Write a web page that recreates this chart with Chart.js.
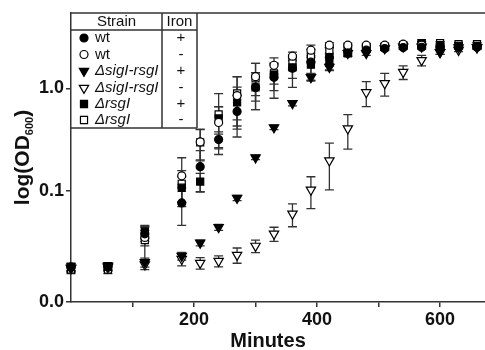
<!DOCTYPE html>
<html><head><meta charset="utf-8">
<script src="https://cdn.jsdelivr.net/npm/chart.js@4/dist/chart.umd.min.js"></script>
<style>html,body{margin:0;padding:0;background:#fff}</style>
</head><body>
<canvas id="c" width="485" height="350" style="width:485px;height:350px;display:block"></canvas>
<script>
// ---- data ----
const minutes = [0,60,120,180,210,240,270,300,330,360,390,420,450,480,510,540,570,600,630,660];

const wtIron      = [0.018,0.018,0.038,0.076,0.172,0.316,0.595,1.02,1.28,1.57,1.80,2.01,2.20,2.36,2.45,2.50,2.52,2.50,2.55,2.55];
const wtIronErr   = [0.0015,0.0015,0.006,0.03,0.075,0.06,0.26,0.40,0.48,0.55,0.60,0.50,0.15,0.12,0.10,0.10,0.10,0.10,0.10,0.10];

const wtNoIron    = [0.018,0.018,0.035,0.140,0.300,0.464,0.850,1.30,1.68,2.06,2.36,2.64,2.64,2.64,2.64,2.70,2.64,2.52,2.52,2.52];
const wtNoIronErr = [0.0015,0.0015,0.006,0.07,0.10,0.20,0.45,0.45,0.30,0.20,0.28,0.15,0.12,0.10,0.10,0.10,0.10,0.10,0.10,0.10];

const sigIron     = [0.0176,0.018,0.020,0.023,0.031,0.044,0.085,0.211,0.415,0.713,1.28,1.61,2.20,2.20,2.45,2.55,2.55,2.25,2.50,2.50];
const sigIronErr  = [0.0015,0.0015,0.002,0.002,0.002,0.003,0.005,0.010,0.02,0.04,0.10,0.12,0.10,0.10,0.10,0.10,0.10,0.10,0.10,0.10];

const sigNoIron   = [0.0176,0.0184,0.019,0.0215,0.0197,0.0206,0.0236,0.0289,0.038,0.0595,0.102,0.197,0.405,0.913,1.12,1.44,1.88,2.25,2.36,2.52];
const sigNoIronErr= [0.0015,0.0015,0.002,0.003,0.0025,0.0025,0.004,0.004,0.006,0.015,0.035,0.095,0.15,0.25,0.28,0.22,0.22,0.10,0.08,0.08];

const rsglIron    = [0.018,0.0184,0.040,0.107,0.123,0.508,0.729,1.02,1.35,1.60,1.70,1.90,2.20,2.45,2.55,2.60,2.76,2.64,2.60,2.60];
const rsglIronErr = [0.0015,0.0015,0.006,0.03,0.025,0.15,0.30,0.40,0.40,0.35,0.30,0.25,0.15,0.10,0.10,0.10,0.10,0.10,0.10,0.10];

const rsglNoIron  = [0.017,0.017,0.033,0.117,0.296,0.556,0.893,1.25,1.40,1.76,2.01,2.36,2.52,2.52,2.52,2.64,2.76,2.76,2.70,2.70];
const rsglNoIronErr=[0.0015,0.0015,0.012,0.04,0.10,0.33,0.40,0.50,0.30,0.25,0.20,0.15,0.10,0.10,0.10,0.10,0.10,0.10,0.10,0.10];

const strainLabels = ['wt','wt','\u0394sigI-rsgI','\u0394sigI-rsgI','\u0394rsgI','\u0394rsgI'];
const ironLabels   = ['+','-','+','-','+','-'];
const xTickValues  = [100,200,300,400,500,600];
const yTickLabels  = ['0.0','0.1','1.0'];
const yTickValues  = [0.0082,0.1,1.0];
const Y_MIN = 0.0082, Y_MAX = 5.44, X_MAX = 673;

// ---- styles ----
const FONT = '"Liberation Sans", Arial, Helvetica, sans-serif';
const AX = '#333333';
const styles = [
  {pointStyle:'circle',   radius:4.0, rotation:0,   fill:'#000'},
  {pointStyle:'circle',   radius:4.0, rotation:0,   fill:'#fff'},
  {pointStyle:'triangle', radius:5.4, rotation:180, fill:'#000'},
  {pointStyle:'triangle', radius:5.4, rotation:180, fill:'#fff'},
  {pointStyle:'rect',     radius:5.0, rotation:0,   fill:'#000'},
  {pointStyle:'rect',     radius:5.0, rotation:0,   fill:'#fff'}
];
const series = [wtIron, wtNoIron, sigIron, sigNoIron, rsglIron, rsglNoIron];
const errs   = [wtIronErr, wtNoIronErr, sigIronErr, sigNoIronErr, rsglIronErr, rsglNoIronErr];

const datasets = series.map((vals, k) => ({
  label: strainLabels[k] + ' ' + ironLabels[k],
  data: vals.map((v, i) => ({x: minutes[i], y: v})),
  errors: errs[k],
  showLine: false,
  clip: false,
  pointStyle: styles[k].pointStyle,
  pointRadius: styles[k].radius,
  pointRotation: styles[k].rotation,
  pointBackgroundColor: styles[k].fill,
  pointBorderColor: '#000',
  pointBorderWidth: 1.2,
  pointHoverRadius: styles[k].radius
}));

const errorBars = {
  id: 'errorBars',
  beforeDatasetsDraw(chart) {
    const {ctx, scales: {x, y}} = chart;
    ctx.save();
    ctx.strokeStyle = AX; ctx.lineWidth = 1.3;
    chart.data.datasets.forEach(ds => {
      ds.data.forEach((p, i) => {
        const e = ds.errors[i];
        const px = x.getPixelForValue(p.x);
        const top = y.getPixelForValue(p.y + e);
        const bot = y.getPixelForValue(Math.max(p.y - e, Y_MIN));
        ctx.beginPath();
        ctx.moveTo(px, top); ctx.lineTo(px, bot);
        ctx.moveTo(px - 4.5, top); ctx.lineTo(px + 4.5, top);
        ctx.moveTo(px - 4.5, bot); ctx.lineTo(px + 4.5, bot);
        ctx.stroke();
      });
    });
    ctx.restore();
  }
};

const decor = {
  id: 'decor',
  afterDraw(chart) {
    const {ctx, chartArea: a} = chart;
    ctx.save();
    ctx.strokeStyle = AX; ctx.lineWidth = 1.5;
    // top frame line
    ctx.beginPath(); ctx.moveTo(a.left, a.top); ctx.lineTo(a.right, a.top); ctx.stroke();
    // legend table
    const L = a.left, T = a.top, C1 = 162, R = 197, HB = 30, B = 128;
    ctx.fillStyle = '#fff';
    ctx.fillRect(L + 1, T + 1, R - L - 1, B - T - 1);
    ctx.beginPath();
    ctx.moveTo(L, HB); ctx.lineTo(R, HB);
    ctx.moveTo(L, B); ctx.lineTo(R, B);
    ctx.moveTo(C1, T); ctx.lineTo(C1, B);
    ctx.moveTo(R, T); ctx.lineTo(R, B);
    ctx.stroke();
    ctx.fillStyle = '#111';
    ctx.textBaseline = 'middle';
    ctx.textAlign = 'center';
    ctx.font = '15px ' + FONT;
    ctx.fillText('Strain', (L + C1) / 2, 22);
    ctx.fillText('Iron', (C1 + R) / 2, 22);
    const rowY = [38, 54.5, 71, 88, 104, 120];
    rowY.forEach((ry, k) => {
      const st = styles[k];
      ctx.fillStyle = st.fill; ctx.strokeStyle = '#000'; ctx.lineWidth = 1.2;
      Chart.helpers.drawPoint(ctx, {pointStyle: st.pointStyle, radius: st.radius, rotation: st.rotation, borderWidth: 1.2}, 84, ry);
      ctx.fillStyle = '#111';
      ctx.textAlign = 'left';
      ctx.font = (k >= 2 ? 'italic ' : '') + '15px ' + FONT;
      ctx.fillText(strainLabels[k], 95, ry);
      ctx.textAlign = 'center';
      ctx.font = '15px ' + FONT;
      ctx.fillText(ironLabels[k], 181, ry);
    });
    // axis titles
    ctx.fillStyle = '#111';
    ctx.font = 'bold 20px ' + FONT;
    ctx.textAlign = 'center'; ctx.textBaseline = 'alphabetic';
    ctx.fillText('Minutes', 268, 347);
    // y title with subscript
    const p1 = 'log(OD', sub = '600', p2 = ')';
    ctx.font = 'bold 21px ' + FONT; const w1 = ctx.measureText(p1).width, w3 = ctx.measureText(p2).width;
    ctx.font = 'bold 11px ' + FONT; const w2 = ctx.measureText(sub).width;
    const tot = w1 + w2 + w3;
    ctx.translate(29, (a.top + a.bottom) / 2);
    ctx.rotate(-Math.PI / 2);
    ctx.textAlign = 'left';
    let sx = -tot / 2;
    ctx.font = 'bold 21px ' + FONT; ctx.fillText(p1, sx, 0); sx += w1;
    ctx.font = 'bold 11px ' + FONT; ctx.fillText(sub, sx, 4); sx += w2;
    ctx.font = 'bold 21px ' + FONT; ctx.fillText(p2, sx, 0);
    ctx.restore();
  }
};

new Chart(document.getElementById('c'), {
  type: 'scatter',
  data: {datasets},
  options: {
    responsive: false,
    animation: false,
    devicePixelRatio: 1,
    layout: {autoPadding: false, padding: {top: 13, right: 0, left: 0, bottom: 0}},
    plugins: {legend: {display: false}, tooltip: {enabled: false}},
    scales: {
      x: {
        type: 'linear', min: 0, max: X_MAX,
        afterFit: s => { s.height = 48; s.paddingLeft = 0; s.paddingRight = 0; },
        afterBuildTicks: s => { s.ticks = xTickValues.map(v => ({value: v})); },
        border: {color: AX, width: 1.5},
        grid: {drawOnChartArea: false, drawTicks: true, tickLength: 5, color: AX, lineWidth: 1.5},
        ticks: {
          color: '#111', padding: 2, maxRotation: 0, autoSkip: false,
          font: {family: FONT, size: 18, weight: 'bold'},
          callback: v => (v % 200 === 0 ? String(v) : '')
        }
      },
      y: {
        type: 'logarithmic', min: Y_MIN, max: Y_MAX,
        afterFit: s => { s.width = 71; s.paddingTop = 0; s.paddingBottom = 0; },
        afterBuildTicks: s => { s.ticks = yTickValues.map(v => ({value: v})); },
        border: {color: AX, width: 1.5},
        grid: {drawOnChartArea: false, drawTicks: true, tickLength: 5, color: AX, lineWidth: 1.5},
        ticks: {
          color: '#111', padding: 2, autoSkip: false,
          font: {family: FONT, size: 18, weight: 'bold'},
          callback: (v, i) => yTickLabels[i]
        }
      }
    }
  },
  plugins: [errorBars, decor]
});
</script>
</body></html>
